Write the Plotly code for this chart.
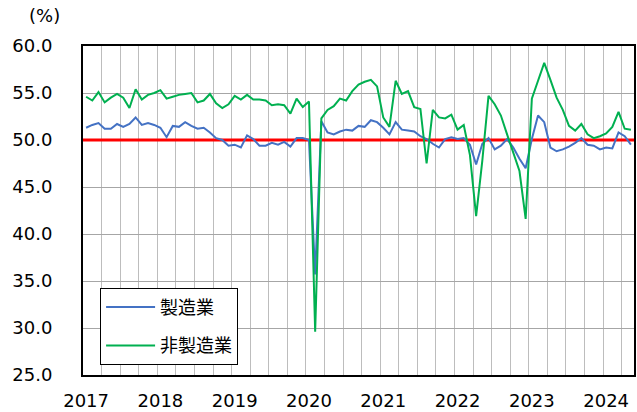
import plotly.graph_objects as go

months = list(range(89))  # Jan 2017 .. May 2024
year_labels = ["2017", "2018", "2019", "2020", "2021", "2022", "2023", "2024"]
year_pos = [0, 12, 24, 36, 48, 60, 72, 84]

manufacturing = [
    51.3, 51.6, 51.8, 51.2, 51.2, 51.7, 51.4, 51.7, 52.4, 51.6, 51.8, 51.6,
    51.3, 50.3, 51.5, 51.4, 51.9, 51.5, 51.2, 51.3, 50.8, 50.2, 50.0, 49.4,
    49.5, 49.2, 50.5, 50.1, 49.4, 49.4, 49.7, 49.5, 49.8, 49.3, 50.2, 50.2,
    50.0, 35.7, 52.0, 50.8, 50.6, 50.9, 51.1, 51.0, 51.5, 51.4, 52.1, 51.9,
    51.3, 50.6, 51.9, 51.1, 51.0, 50.9, 50.4, 50.1, 49.6, 49.2, 50.1, 50.3,
    50.1, 50.2, 49.5, 47.4, 49.6, 50.2, 49.0, 49.4, 50.1, 49.2, 48.0, 47.0,
    50.1, 52.6, 51.9, 49.2, 48.8, 49.0, 49.3, 49.7, 50.2, 49.5, 49.4, 49.0,
    49.2, 49.1, 50.8, 50.4, 49.5,
]
non_manufacturing = [
    54.6, 54.2, 55.1, 54.0, 54.5, 54.9, 54.5, 53.4, 55.4, 54.3, 54.8, 55.0,
    55.3, 54.4, 54.6, 54.8, 54.9, 55.0, 54.0, 54.2, 54.9, 53.9, 53.4, 53.8,
    54.7, 54.3, 54.8, 54.3, 54.3, 54.2, 53.7, 53.8, 53.7, 52.8, 54.4, 53.5,
    54.1, 29.6, 52.3, 53.2, 53.6, 54.4, 54.2, 55.2, 55.9, 56.2, 56.4, 55.7,
    52.4, 51.4, 56.3, 54.9, 55.2, 53.5, 53.3, 47.5, 53.2, 52.4, 52.3, 52.7,
    51.1, 51.6, 48.4, 41.9, 47.8, 54.7, 53.8, 52.6, 50.6, 48.7, 46.7, 41.6,
    54.4, 56.3, 58.2, 56.4, 54.5, 53.2, 51.5, 51.0, 51.7, 50.6, 50.2, 50.4,
    50.7, 51.4, 53.0, 51.2, 51.1,
]
series_names = ["製造業", "非製造業"]
threshold = 50

FONT = "DejaVu Sans"
CJK = "Noto Sans CJK JP"

x_lo = months[0] - 0.5
x_hi = months[-1] + 0.5

fig = go.Figure()
# 50 reference line drawn as first trace (below the data lines, above grid)
fig.add_trace(go.Scatter(x=[x_lo, x_hi], y=[threshold, threshold], mode="lines",
                         line=dict(color="#FF0000", width=3), showlegend=False,
                         hoverinfo="skip", cliponaxis=False))
fig.add_trace(go.Scatter(x=months, y=manufacturing, mode="lines", name=series_names[0],
                         line=dict(color="#4472C4", width=2), legendgroup="a"))
fig.add_trace(go.Scatter(x=months, y=non_manufacturing, mode="lines", name=series_names[1],
                         line=dict(color="#00B050", width=2), legendgroup="b"))

fig.update_layout(
    width=637, height=412,
    margin=dict(l=83, r=3, t=46, b=37),
    paper_bgcolor="white", plot_bgcolor="white",
    font=dict(family=FONT, size=18, color="#000000"),
    showlegend=True,
    legend=dict(x=0.031, y=0.265, xanchor="left", yanchor="top",
                bgcolor="white", bordercolor="#000000", borderwidth=1,
                font=dict(family=CJK, size=18), tracegroupgap=12,
                traceorder="grouped", itemwidth=49,
                entrywidth=100, entrywidthmode="pixels"),
    annotations=[dict(text="(%)", xref="paper", yref="paper", x=-0.07, y=1.0,
                      xanchor="center", yanchor="bottom", yshift=18, showarrow=False,
                      font=dict(family=FONT, size=18))],
)

fig.update_xaxes(
    range=[x_lo, x_hi], tickmode="array", tickvals=year_pos, ticktext=year_labels,
    showgrid=False, ticks="outside", ticklen=9, tickcolor="rgba(0,0,0,0)",
    showline=True, linecolor="#000000", linewidth=1.5, mirror=True, zeroline=False,
    minor=dict(tick0=2.5, dtick=3, showgrid=True, gridcolor="#BDBDBD", gridwidth=1, ticks=""),
    tickfont=dict(family=FONT, size=18), automargin=False,
)
fig.update_yaxes(
    range=[25, 60], dtick=5, tick0=25, tickformat=".1f",
    showgrid=True, gridcolor="#A6A6A6", gridwidth=1, zeroline=False,
    ticks="outside", ticklen=25, tickcolor="rgba(0,0,0,0)",
    showline=True, linecolor="#000000", linewidth=2, mirror=True,
    tickfont=dict(family=FONT, size=18), automargin=False,
)

fig.write_html("out.html", config={"displayModeBar": False},
               post_script="document.body.style.margin='0';document.body.style.padding='0';")
